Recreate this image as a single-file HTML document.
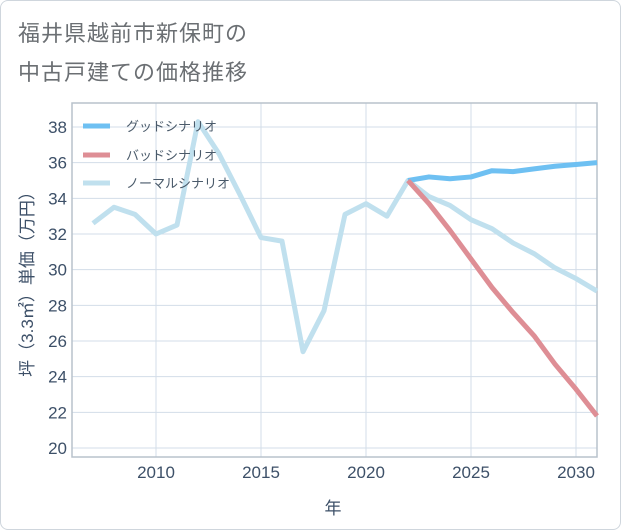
<!DOCTYPE html>
<html><head><meta charset="utf-8"><style>
body{margin:0;background:#fff;}
#card{position:absolute;left:0;top:0;width:619px;height:528px;border:1px solid #cfd6dd;border-radius:8px;background:#fff;font-family:"Liberation Sans","Noto Sans CJK JP",sans-serif;}
#title{position:absolute;left:17px;top:13px;font-size:22px;line-height:39px;color:#6b6f73;letter-spacing:1px;}
svg{position:absolute;left:0;top:0;font-family:"Liberation Sans","Noto Sans CJK JP",sans-serif;}
</style></head><body>
<div id="card">
<div id="title">福井県越前市新保町の<br>中古戸建ての価格推移</div>
</div>
<svg id="chart" width="621" height="530"></svg>
<script>
const years=[2007,2008,2009,2010,2011,2012,2013,2014,2015,2016,2017,2018,2019,2020,2021,2022,2023,2024,2025,2026,2027,2028,2029,2030,2031];
const normalVals=[32.6,33.5,33.1,32.0,32.5,38.3,36.5,34.2,31.8,31.6,25.4,27.7,33.1,33.7,33.0,35.0,34.1,33.6,32.8,32.3,31.5,30.9,30.1,29.5,28.8];
const futureYears=[2022,2023,2024,2025,2026,2027,2028,2029,2030,2031];
const goodVals=[35.0,35.2,35.1,35.2,35.55,35.5,35.65,35.8,35.9,36.0];
const badVals=[35.0,33.7,32.2,30.6,29.0,27.6,26.3,24.7,23.3,21.8];
const xTicks=[2010,2015,2020,2025,2030];
const yTicks=[20,22,24,26,28,30,32,34,36,38];
const NS="http://www.w3.org/2000/svg";
const svg=document.getElementById('chart');
const L=72,R=597,T=103,B=457;
const x=v=>L+(v-2006)*(R-L)/25;
const y=v=>127+(38-v)*(448-127)/18;
function mk(tag,attrs,parent){const e=document.createElementNS(NS,tag);for(const k in attrs)e.setAttribute(k,attrs[k]);(parent||svg).appendChild(e);return e;}
const grid=mk('g',{});


yTicks.forEach(t=>{
 const ln=mk('line',{x1:L,x2:R,y1:y(t),y2:y(t),stroke:'#d3dde8','stroke-width':1},grid);
 
 
 const tx=mk('text',{x:L-5,y:y(t)+6,'text-anchor':'end','font-size':17,fill:'#3d5068'});
 
 
 tx.textContent=t;
});
xTicks.forEach(t=>{
 const ln=mk('line',{x1:x(t),x2:x(t),y1:T,y2:B,stroke:'#d3dde8','stroke-width':1},grid);
 
 
 const tx=mk('text',{x:x(t),y:B+21,'text-anchor':'middle','font-size':17,fill:'#3d5068'});
 
 
 tx.textContent=t;
});
const frame=mk('rect',{x:L,y:T,width:R-L,height:B-T,fill:'none',stroke:'#b8c2cc','stroke-width':1.5});


function line(xs,vs,color,name){
 const p=mk('polyline',{points:xs.map((v,i)=>x(v)+','+y(vs[i])).join(' '),fill:'none',stroke:color,'stroke-width':5,'stroke-linejoin':'round'});
 
 
}
line(years,normalVals,'#c0e0ee','normal-scenario-line');
line(futureYears,goodVals,'#6ec0f2','good-scenario-line');
line(futureYears,badVals,'#de8e95','bad-scenario-line');
const leg=[['グッドシナリオ','#6ec0f2',126],['バッドシナリオ','#de8e95',155],['ノーマルシナリオ','#c0e0ee',183]];
leg.forEach(([lbl,c,yy])=>{
 const g=mk('g',{});
 
 
 mk('line',{x1:83,x2:110,y1:yy,y2:yy,stroke:c,'stroke-width':5},g);
 const t=mk('text',{x:126,y:yy+5,'font-size':13,fill:'#4a5a6a'},g);
 t.textContent=lbl;
});
const yt=mk('text',{transform:'translate(33,280) rotate(-90)','text-anchor':'middle','font-size':17,fill:'#3d5068'});


yt.textContent='坪（3.3㎡）単価（万円）';
const xt=mk('text',{x:333,y:514,'text-anchor':'middle','font-size':17,fill:'#3d5068'});


xt.textContent='年';
</script>
</body></html>
